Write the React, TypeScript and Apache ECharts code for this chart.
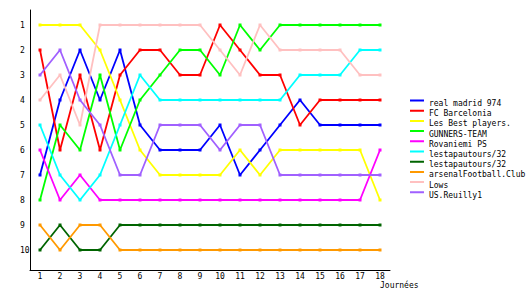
import React, { useEffect, useRef } from "react";
import * as echarts from "echarts";

const rounds = ["1","2","3","4","5","6","7","8","9","10","11","12","13","14","15","16","17","18"];
const rankTicks = [1, 2, 3, 4, 5, 6, 7, 8, 9, 10];

const teamNames = [
  "real madrid 974",
  "FC Barcelonia",
  "Les Best players.",
  "GUNNERS-TEAM",
  "Rovaniemi PS",
  "lestapautours/32",
  "lestapautours/32 ",
  "arsenalFootball.Club",
  "Lows",
  "US.Reuilly1",
];

const realMadrid = [7,4,2,4,2,5,6,6,6,5,7,6,5,4,5,5,5,5];
const barcelonia = [2,6,3,6,3,2,2,3,3,1,2,3,3,5,4,4,4,4];
const bestPlayers = [1,1,1,2,4,6,7,7,7,7,6,7,6,6,6,6,6,8];
const gunners = [8,5,6,3,6,4,3,2,2,3,1,2,1,1,1,1,1,1];
const rovaniemi = [6,8,7,8,8,8,8,8,8,8,8,8,8,8,8,8,8,6];
const lestapautoursA = [5,7,8,7,5,3,4,4,4,4,4,4,4,3,3,3,2,2];
const lestapautoursB = [10,9,10,10,9,9,9,9,9,9,9,9,9,9,9,9,9,9];
const arsenal = [9,10,9,9,10,10,10,10,10,10,10,10,10,10,10,10,10,10];
const lows = [4,3,5,1,1,1,1,1,1,2,3,1,2,2,2,2,3,3];
const reuilly = [3,2,4,5,7,7,5,5,5,6,5,5,7,7,7,7,7,7];

const seriesData = [realMadrid, barcelonia, bestPlayers, gunners, rovaniemi, lestapautoursA, lestapautoursB, arsenal, lows, reuilly];
const colors = ["#0000ff", "#ff0000", "#ffff00", "#00ff00", "#ff00ff", "#00ffff", "#006400", "#ff9900", "#ffc0c0", "#a060ff"];

const FONT = "DejaVu Sans Mono";

export default function App() {
  const ref = useRef<HTMLDivElement>(null);
  useEffect(() => {
    if (!ref.current) return;
    const chart = echarts.init(ref.current, undefined, { renderer: "svg" });
    chart.setOption({
      animation: false,
      backgroundColor: "#ffffff",
      color: colors,
      textStyle: { fontFamily: FONT },
      grid: { left: 30, top: 10, width: 360, height: 260 },
      xAxis: {
        type: "category",
        data: rounds,
        boundaryGap: true,
        axisLine: { lineStyle: { color: "#000", width: 1 } },
        axisTick: { show: false },
        axisLabel: { interval: 0, margin: 2, color: "#000", fontFamily: FONT, fontSize: 8 },
        splitLine: { show: false },
      },
      yAxis: {
        type: "value",
        inverse: true,
        min: 0.4,
        max: 10.8,
        axisLine: { show: true, lineStyle: { color: "#000", width: 1 } },
        axisTick: { show: false },
        splitLine: { show: false },
        axisLabel: {
          customValues: rankTicks,
          align: "left",
          margin: 10,
          color: "#000",
          fontFamily: FONT,
          fontSize: 8,
        },
      },
      legend: {
        orient: "vertical",
        left: 410,
        top: 99.5,
        padding: 0,
        itemWidth: 14,
        itemHeight: 8,
        itemGap: 2.2,
        icon: "path://M0 0H14V2H0Z M0 8H0.01V8.01H0Z",
        textStyle: { fontFamily: FONT, fontSize: 8, color: "#000", lineHeight: 8 },
        data: teamNames,
      },
      graphic: [
        {
          type: "text",
          left: 380,
          top: 281,
          style: { text: "Journées", font: `8px "${FONT}"`, fill: "#000" },
        },
      ],
      series: teamNames.map((name, i) => ({
        name,
        type: "line",
        data: seriesData[i],
        symbol: "rect",
        symbolSize: 3,
        showSymbol: true,
        lineStyle: { width: 1.8, color: colors[i] },
        itemStyle: { color: colors[i] },
      })),
    });
    return () => chart.dispose();
  }, []);
  return (
    <div
      ref={ref}
      style={{ position: "fixed", left: 0, top: 0, width: 530, height: 300, background: "#fff" }}
    />
  );
}
